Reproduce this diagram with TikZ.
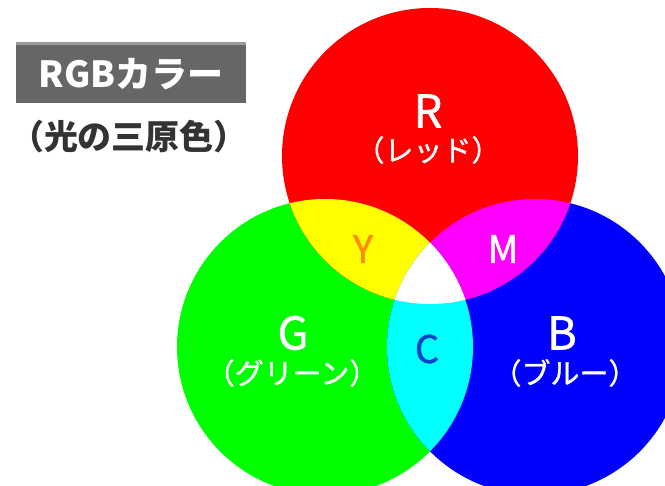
\documentclass[tikz,border=0pt]{standalone}
\usepackage{fontspec}
\setmainfont{Noto Sans CJK JP}
\newfontfamily\medfont{Noto Sans CJK JP}[FakeBold=1.2]
\usepackage{xcolor}
\usetikzlibrary{positioning}
\definecolor{boxgray}{HTML}{666666}
\definecolor{boxtop}{HTML}{9A9A9A}
\definecolor{subgray}{HTML}{333333}
\definecolor{yorange}{HTML}{FF8C00}
\definecolor{cblue}{HTML}{0044CC}
\definecolor{lred}{RGB}{255,0,0}
\definecolor{lgreen}{RGB}{0,255,0}
\definecolor{lblue}{RGB}{0,0,255}
\definecolor{lyellow}{RGB}{255,255,0}
\definecolor{lmagenta}{RGB}{255,0,255}
\definecolor{lcyan}{RGB}{0,255,255}
\tikzset{
  %% Letter on a circle
  bigchar/.style={
    font=\fontsize{45}{45}\medfont,
    text=#1, inner sep=0pt
  },
  bigchar/.default=white,
  %% Letter on an overlap
  mixchar/.style={
    font=\fontsize{38}{38}\medfont,
    text=#1, inner sep=0pt
  },
  mixchar/.default=white,
  %% Katakana name under a letter
  subname/.style={
    font=\fontsize{29}{29}\medfont,
    text=white, inner sep=0pt
  },
}

\begin{document}
\begin{tikzpicture}[x=1pt,y=-1pt]
  \useasboundingbox (0,0) rectangle (665,486);

  \coordinate (rc) at (430,156);
  \coordinate (gc) at (325,347);
  \coordinate (bc) at (535,347);
  \def\rad{148pt}

  %% Circles
  \fill[lgreen] (gc) circle (\rad);
  \fill[lblue]  (bc) circle (\rad);
  \fill[lred]   (rc) circle (\rad);

  %% Overlaps
  \begin{scope}
    \clip (rc) circle (\rad);
    \fill[lyellow]  (gc) circle (\rad);
    \fill[lmagenta] (bc) circle (\rad);
  \end{scope}
  \begin{scope}
    \clip (gc) circle (\rad);
    \fill[lcyan] (bc) circle (\rad);
    \clip (bc) circle (\rad);
    \fill[white] (rc) circle (\rad);
  \end{scope}

  %% Title
  \node[fill=boxgray, minimum width=230pt, minimum height=61pt,
        inner sep=0pt] (title) at (131,72.5) {};
  \fill[boxtop] (title.north west) rectangle ([yshift=-3pt]title.north east);
  \node[text=white, font=\fontsize{36}{36}\selectfont\bfseries,
        inner sep=0pt] (titletxt) at (131,74) {RGBカラー};
  \node[text=subgray, font=\fontsize{34}{34}\selectfont\bfseries,
        inner sep=0pt] (subtitle) at (129,137) {（光の三原色）};

  %% Labels
  \node[bigchar] (lr) at (428,111) {R};
  \node[subname] (nr) at (428,150) {（レッド）};
  \node[bigchar] (lg) at (293,333) {G};
  \node[subname] (ng) at (292,373) {（グリーン）};
  \node[bigchar] (lb) at (562,333) {B};
  \node[subname] (nb) at (565,373) {（ブルー）};

  \node[mixchar=yorange] (ly) at (363,249) {Y};
  \node[mixchar] (lm) at (503,249) {M};
  \node[mixchar=cblue] (lc) at (427,349) {C};

\end{tikzpicture}
\end{document}
